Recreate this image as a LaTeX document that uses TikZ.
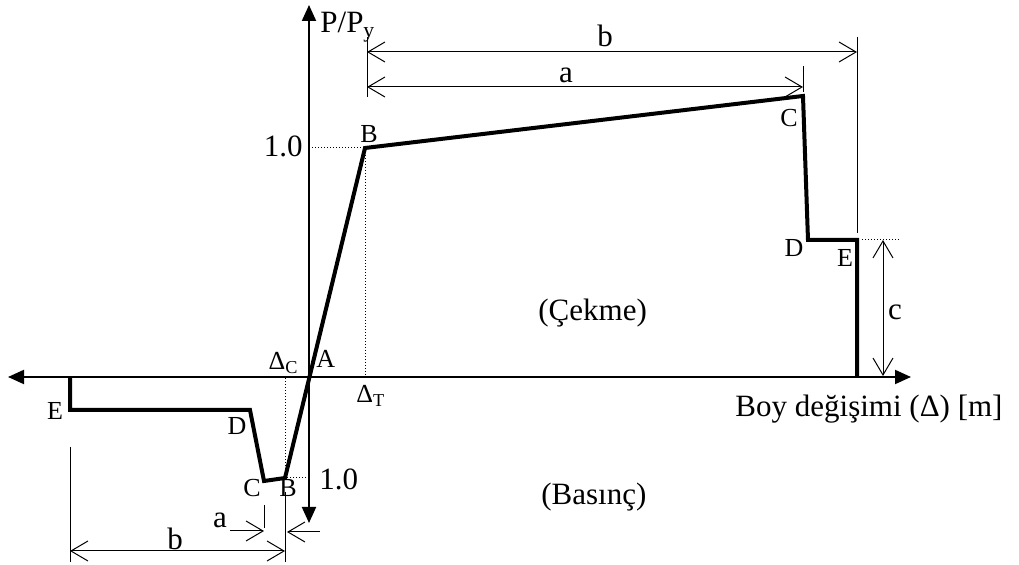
\documentclass[tikz,border=0pt]{standalone}
\usepackage{fontspec}
\setmainfont{Liberation Serif}
\usetikzlibrary{arrows.meta,positioning,calc}

\begin{document}
\begin{tikzpicture}[x=0.5pt, y=-0.5pt,
      curve/.style={line width=2pt, line join=miter},
      axis/.style={line width=1pt, -{Triangle[length=8pt,width=7pt]}},
      barb/.style={line width=0.5pt, -{Straight Barb[length=8.5pt,width=10pt]}},
      dim/.style={line width=0.5pt, {Straight Barb[length=8.5pt,width=10pt]}-{Straight Barb[length=8.5pt,width=10pt]}},
      ext/.style={line width=0.5pt},
      guide/.style={line width=0.5pt, densely dotted},
      lbl/.style={font=\fontsize{15.5}{16}\selectfont, inner sep=0pt},
      pt/.style={font=\fontsize{13}{14}\selectfont, inner sep=0pt}]
    \useasboundingbox (0,0) rectangle (1019,565);
    % axes
    \coordinate (O) at (309,377);
    \coordinate (xl) at (8,377); \coordinate (xr) at (911,377);
    \coordinate (yt) at (309,5); \coordinate (yb) at (309,523);
    \draw[axis] (O) -- (xr); \draw[axis] (O) -- (xl);
    \draw[axis] (O) -- (yt); \draw[axis] (O) -- (yb);
    % tension and compression points
    \coordinate (tB) at (365,148); \coordinate (tC) at (803,96);
    \coordinate (tD) at (808,240); \coordinate (tE) at (857,240);
    \coordinate (tF) at (857,377);
    \coordinate (cB) at (285,478); \coordinate (cC) at (264,481);
    \coordinate (cD) at (250,410); \coordinate (cE) at (70,410);
    \coordinate (cF) at (70,377);
    \draw[guide] (tB -| O) -- (tB) -- (tB |- O);
    \draw[guide] (cB -| O) -- (cB) -- (cB |- O);
    \draw[curve] (cF) -- (cE) -- (cD) -- (cC) -- (cB) -- (tB) -- (tC) -- (tD) -- (tE) -- (tF);
    % dimensions (tension)
    \coordinate (bL) at (367,52); \coordinate (bR) at (857,52);
    \coordinate (aL) at (367,87); \coordinate (aR) at (803,87);
    \draw[ext] (367,37) -- (367,97);
    \draw[ext] (857,37) -- (857,233);
    \draw[ext] (803,66) -- (803,92);
    \draw[dim] (bL) -- (bR);
    \draw[dim] (aL) -- (aR);
    \coordinate (cT) at (883,240); \coordinate (cU) at (883,376);
    \draw[guide] (862,240) -- (900,240);
    \draw[dim] (cT) -- (cU);
    % dimensions (compression)
    \coordinate (lbL) at (70,551); \coordinate (lbR) at (285,551);
    \coordinate (laL) at (230,531); \coordinate (laR) at (264,531);
    \coordinate (raL) at (320,532); \coordinate (raR) at (287,532);
    \draw[ext] (70,447) -- (70,562);
    \draw[ext] (285,492) -- (285,562);
    \draw[ext] (264,505) -- (264,528);
    \draw[dim] (lbL) -- (lbR);
    \draw[barb] (laL) -- (laR);
    \draw[barb] (raL) -- (raR);
    % labels
    \node[lbl, anchor=base west] (py) at (320,33) {P/P\textsubscript{y}};
    \node[lbl, anchor=base east] (one) at (303,157) {1.0};
    \node[pt, anchor=base] (lB) at (369,143) {B};
    \node[pt, anchor=base] (lC) at (789,127) {C};
    \node[pt, anchor=base] (lD) at (794,257) {D};
    \node[pt, anchor=base] (lE) at (845,267) {E};
    \node[lbl, anchor=base] (lc) at (895,320) {c};
    \node[lbl, anchor=base] (lb) at (605,47) {b};
    \node[lbl, anchor=base] (la) at (566,83) {a};
    \node[lbl, anchor=base west] (cek) at (538,321) {(Çekme)};
    \node[pt, anchor=base east] (dc) at (299,370) {Δ\textsubscript{C}};
    \node[pt, anchor=base west] (lA) at (316,368) {A};
    \node[pt, anchor=base west] (dt) at (356,403) {Δ\textsubscript{T}};
    \node[lbl, anchor=base] (xlab) at (869,417) {Boy değişimi (Δ) [m]};
    \node[pt, anchor=base] (lE2) at (55,420) {E};
    \node[pt, anchor=base] (lD2) at (237,435) {D};
    \node[pt, anchor=base] (lC2) at (252,497) {C};
    \node[pt, anchor=base] (lB2) at (288,497) {B};
    \node[lbl, anchor=base west] (one2) at (319,490) {1.0};
    \node[lbl, anchor=base west] (bas) at (541,505) {(Basınç)};
    \node[lbl, anchor=base] (la2) at (220,528) {a};
    \node[lbl, anchor=base] (lb2) at (175,550) {b};
  \end{tikzpicture}
\end{document}
